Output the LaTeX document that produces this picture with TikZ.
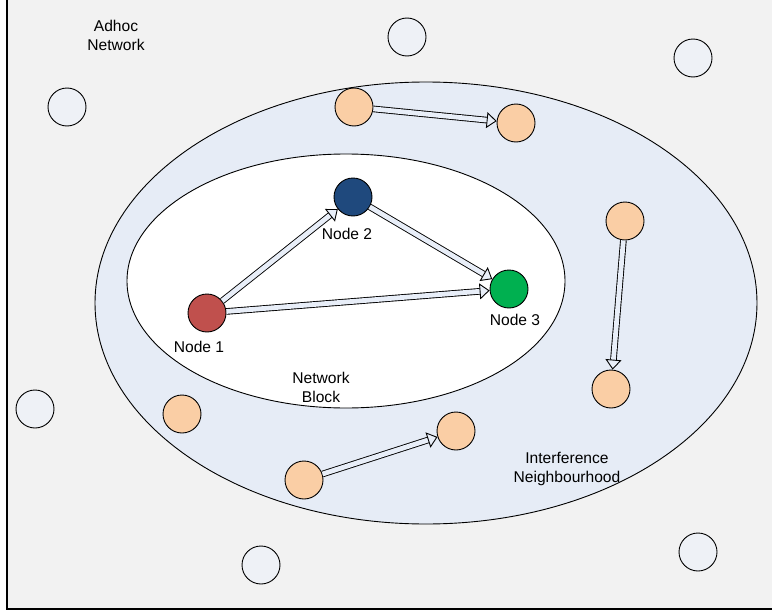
\documentclass[tikz,border=0pt]{standalone}
\usepackage{fontspec}
\setmainfont{Liberation Sans}
\usetikzlibrary{arrows.meta}
\definecolor{paper}{HTML}{F2F2F2}
\definecolor{zone}{HTML}{E6ECF6}
\definecolor{idle}{HTML}{EEF1F6}
\definecolor{peach}{HTML}{FACEA5}
\definecolor{nred}{HTML}{C0504D}
\definecolor{nblue}{HTML}{1F497D}
\definecolor{ngreen}{HTML}{00B050}
\definecolor{shaft}{HTML}{E8EEF8}
\begin{document}
\begin{tikzpicture}[x=1pt,y=-1pt,
  lbl/.style={font=\fontsize{15.6}{19}\selectfont, align=center, inner sep=0pt},
  host/.style={circle, draw=black, line width=0.9pt, minimum size=38pt, inner sep=0pt},
  idlehost/.style={host, fill=idle},
  busyhost/.style={host, fill=peach},
  flow/.style={double=shaft, double distance=4.8pt, line width=0.9pt,
    -{Triangle[length=10pt 0 0, width=16pt 0 0, line width=0.9pt, color=black, fill=shaft]}}]
\useasboundingbox (0,0) rectangle (772,613);
\fill[white] (0,0) rectangle (772,613);
% paper sheet
\fill[paper] (7,-5) rectangle (780,609);
\draw[line width=1.2pt] (7,-5) -- (7,609) -- (780,609);
% interference neighbourhood and network block
\draw[fill=zone, line width=0.9pt] (426,303) ellipse [x radius=331, y radius=221];
\draw[fill=white, line width=0.9pt] (346,281) ellipse [x radius=219, y radius=127];
% labels
\node[lbl] (tadhoc) at (116,35) {Adhoc\\Network};
\node[lbl] (tblock) at (321,387) {Network\\Block};
\node[lbl] (tinter) at (567,469) {Interference\\Neighbourhood};
% idle hosts outside the neighbourhood
\node[idlehost] (g1) at (407,37) {};
\node[idlehost] (g2) at (693,58) {};
\node[idlehost] (g3) at (67,107) {};
\node[idlehost] (g4) at (35,409) {};
\node[idlehost] (g5) at (261,565) {};
\node[idlehost] (g6) at (698,552) {};
% interfering hosts
\node[busyhost] (p1) at (354,107) {};
\node[busyhost] (p2) at (516,123) {};
\node[busyhost] (p3) at (625,221) {};
\node[busyhost] (p4) at (611,389) {};
\node[busyhost] (p5) at (182,414) {};
\node[busyhost] (p6) at (456,431) {};
\node[busyhost] (p7) at (304,480) {};
% block members
\node[host, fill=nred] (n1) at (207,313) {};
\node[host, fill=nblue] (n2) at (353,197) {};
\node[host, fill=ngreen] (n3) at (509,289) {};
\node[lbl] (l1) at (199,347) {Node 1};
\node[lbl] (l2) at (347,234) {Node 2};
\node[lbl] (l3) at (515,320) {Node 3};
% transmissions
\draw[flow] (n1) -- (n2);
\draw[flow] (n1) -- (n3);
\draw[flow] (n2) -- (n3);
\draw[flow] (p1) -- (p2);
\draw[flow] (p3) -- (p4);
\draw[flow] (p7) -- (p6);
\end{tikzpicture}
\end{document}
